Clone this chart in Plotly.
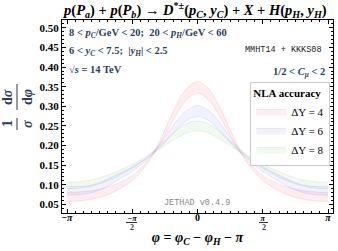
import numpy as np
import plotly.graph_objects as go

# phi grid: k*pi/12 for k = 0..12 (distribution is symmetric in phi)
phi_half = [k * np.pi / 12 for k in range(13)]

# Delta Y = 4 band (lower / upper), phi = 0 ... pi
dy4_lo = [0.333, 0.3165, 0.276, 0.226, 0.179, 0.140, 0.111, 0.092, 0.0775, 0.0675, 0.062, 0.0585, 0.0575]
dy4_hi = [0.363, 0.3455, 0.300, 0.240, 0.185, 0.148, 0.123, 0.108, 0.0965, 0.0885, 0.084, 0.0815, 0.0805]
# Delta Y = 6 band
dy6_lo = [0.274, 0.264, 0.238, 0.208, 0.180, 0.155, 0.134, 0.1165, 0.100, 0.0865, 0.078, 0.0745, 0.073]
dy6_hi = [0.302, 0.290, 0.260, 0.222, 0.186, 0.163, 0.146, 0.1315, 0.118, 0.1055, 0.098, 0.0955, 0.0947]
# Delta Y = 8 band
dy8_lo = [0.2375, 0.232, 0.217, 0.200, 0.181, 0.1605, 0.142, 0.127, 0.113, 0.1025, 0.095, 0.0907, 0.0895]
dy8_hi = [0.2625, 0.256, 0.237, 0.212, 0.187, 0.1675, 0.152, 0.139, 0.127, 0.1175, 0.111, 0.1073, 0.1065]

names = ["ΔY = 4", "ΔY = 6", "ΔY = 8"]
x_tickvals = [-np.pi, -np.pi / 2, 0, np.pi / 2, np.pi]
y_tickvals = [0.05, 0.10, 0.15, 0.20, 0.25, 0.30, 0.35, 0.40, 0.45, 0.50]


def full(v):
    return list(v[:0:-1]) + list(v)


phi = [-p for p in phi_half[:0:-1]] + list(phi_half)

series = [
    (names[0], dy4_lo, dy4_hi, "rgba(255,0,30,0.07)", "rgba(240,60,80,0.12)"),
    (names[1], dy6_lo, dy6_hi, "rgba(0,0,255,0.055)", "rgba(60,60,240,0.10)"),
    (names[2], dy8_lo, dy8_hi, "rgba(0,150,0,0.055)", "rgba(40,150,40,0.10)"),
]

fig = go.Figure()
for name, lo, hi, fillc, linec in series:
    fig.add_trace(go.Scatter(x=phi, y=full(lo), mode="lines", line=dict(color=linec, width=1, shape="spline"),
                             showlegend=False, hoverinfo="skip"))
    fig.add_trace(go.Scatter(x=phi, y=full(hi), mode="lines", line=dict(color=linec, width=1, shape="spline"),
                             fill="tonexty", fillcolor=fillc, name=name))

serif = "Liberation Serif"
mono = "Liberation Mono"

fig.update_layout(
    width=338, height=251,
    margin=dict(l=62, r=5, t=20, b=38),
    paper_bgcolor="white", plot_bgcolor="white",
    title=dict(text="<b><i>p</i>(<i>P<sub>a</sub></i>) + <i>p</i>(<i>P<sub>b</sub></i>) → <i>D</i><sup>*±</sup>(<i>p<sub>C</sub></i>, <i>y<sub>C</sub></i>) + <i>X</i> + <i>H</i>(<i>p<sub>H</sub></i>, <i>y<sub>H</sub></i>)</b>",
               x=0.578, xanchor="center", y=0.962, yanchor="middle",
               font=dict(family=serif, size=14.5, color="black")),
    showlegend=True,
    legend=dict(x=0.99, xanchor="right", y=0.68, yanchor="top", traceorder="normal",
                bgcolor="white", bordercolor="#cccccc", borderwidth=1,
                font=dict(family=serif, size=11, color="black"),
                title=dict(text="<b>NLA accuracy</b>", font=dict(family=serif, size=11)),
                itemwidth=30, tracegroupgap=0),
)

fig.update_xaxes(
    range=[-3.262, 3.262],
    tickvals=x_tickvals,
    ticktext=["<b>−<i>π</i></b>", "<b><span style='font-size:8px'>−<i>π</i></span></b>",
              "<b>0</b>", "<b><span style='font-size:8px'><i>π</i></span></b>", "<b><i>π</i></b>"],
    ticklabelstandoff=-5,
    ticks="inside", ticklen=4, tickcolor="black",
    minor=dict(dtick=np.pi / 16, tick0=-np.pi, ticks="inside", ticklen=2, tickcolor="black"),
    showline=True, linecolor="black", linewidth=1, mirror="ticks",
    showgrid=False, zeroline=False,
    tickfont=dict(family=serif, size=10, color="black"),
    title=dict(text="<b><i>φ</i> = <i>φ<sub>C</sub></i> − <i>φ<sub>H</sub></i> − <i>π</i></b>",
               font=dict(family=serif, size=14, color="black"), standoff=10),
)
fig.update_yaxes(
    range=[0.028, 0.52],
    tickvals=y_tickvals,
    ticktext=["<b>%.2f</b>" % v for v in y_tickvals],
    ticks="inside", ticklen=4, tickcolor="black",
    minor=dict(dtick=0.01, ticks="inside", ticklen=2, tickcolor="black"),
    showline=True, linecolor="black", linewidth=1, mirror="ticks",
    showgrid=False, zeroline=False,
    tickfont=dict(family=serif, size=11, color="black"),
)

def px(xp):
    return (xp - 62) / 271.0


def py(yp):
    return (213 - yp) / 193.0


annotations = [
    dict(x=px(67), y=py(33), xanchor="left", text="<b>8 < <i>p<sub>C</sub></i>/GeV < 20;  20 < <i>p<sub>H</sub></i>/GeV < 60</b>",
         font=dict(family=serif, size=10.5)),
    dict(x=px(67), y=py(51), xanchor="left", text="<b>6 < <i>y<sub>C</sub></i> < 7.5;  |<i>y<sub>H</sub></i>| < 2.5</b>",
         font=dict(family=serif, size=10.5)),
    dict(x=px(67), y=py(69), xanchor="left", text="<b>√<i>s</i> = 14 TeV</b>",
         font=dict(family=serif, size=10.5)),
    dict(x=px(324), y=py(50), xanchor="right", text="MMHT14 + KKKS08",
         font=dict(family=mono, size=8.5, color="#222222")),
    dict(x=px(327), y=py(72), xanchor="right", text="<b>1/2 < <i>C<sub>μ</sub></i> < 2</b>",
         font=dict(family=serif, size=10.5)),
    dict(x=px(197), y=py(203), xanchor="center", text="JETHAD v0.4.9",
         font=dict(family=mono, size=8.5, color="#888888")),
    # x-axis fraction denominators
    dict(x=px(131.5), y=py(227.5), xanchor="center", text="<b>2</b>", font=dict(family=serif, size=8)),
    dict(x=px(263.5), y=py(227.5), xanchor="center", text="<b>2</b>", font=dict(family=serif, size=8)),
    # y-axis title: 1/sigma dsigma/dphi, rotated
    dict(x=-55 / 271.0, y=py(124), xanchor="center", yanchor="middle", textangle=-90, text="<b>1</b>",
         font=dict(family=serif, size=14)),
    dict(x=-35 / 271.0, y=py(124), xanchor="center", yanchor="middle", textangle=-90, text="<b><i>σ</i></b>",
         font=dict(family=serif, size=14)),
    dict(x=-55 / 271.0, y=py(97), xanchor="center", yanchor="middle", textangle=-90, text="<b>d<i>σ</i></b>",
         font=dict(family=serif, size=14)),
    dict(x=-35 / 271.0, y=py(97), xanchor="center", yanchor="middle", textangle=-90, text="<b>d<i>φ</i></b>",
         font=dict(family=serif, size=14)),
]
for a in annotations:
    a.setdefault("xref", "paper")
    a.setdefault("yref", "paper")
    a["showarrow"] = False
    a.setdefault("yanchor", "middle")
    fig.add_annotation(**a)

shapes = [
    # fraction bars of y title
    dict(x0=-45 / 271.0, x1=-45 / 271.0, y0=py(130), y1=py(118)),
    dict(x0=-45 / 271.0, x1=-45 / 271.0, y0=py(110), y1=py(84)),
    # fraction bars of x tick labels
    dict(x0=px(126), x1=px(137), y0=py(222.5), y1=py(222.5)),
    dict(x0=px(259), x1=px(268), y0=py(222.5), y1=py(222.5)),
]
for s in shapes:
    fig.add_shape(type="line", xref="paper", yref="paper", line=dict(color="black", width=0.8), **s)

fig.write_html("out.html", config={"displayModeBar": False},
               post_script="document.body.style.margin='0';document.body.style.overflow='hidden';")
